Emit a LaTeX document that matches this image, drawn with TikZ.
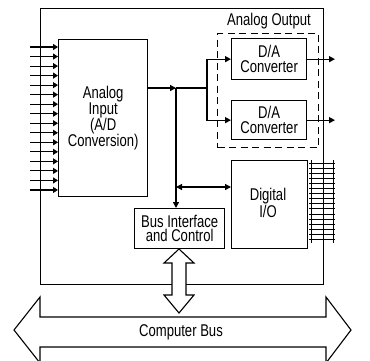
\documentclass[tikz,border=0pt]{standalone}
\usepackage{fontspec}
\setmainfont{Liberation Sans}[FakeStretch=0.77]
\usetikzlibrary{arrows.meta}
\begin{document}
\begin{tikzpicture}[x=1pt,y=-1pt,line width=1.3pt,
  box/.style={draw,line width=1.3pt,inner sep=0pt,anchor=north west},
  lbl/.style={font=\fontsize{17}{15}\selectfont,align=center,inner sep=0pt},
  arr/.style={-{Triangle[length=6pt,width=6pt]}},
  arrtwo/.style={{Triangle[length=6pt,width=6pt]}-{Triangle[length=6pt,width=6pt]}},
  inarr/.style={line width=1.1pt,-{Triangle[length=5pt,width=6pt]}},
  hollow/.style={draw,fill=white,line width=1.1pt,line join=miter}]
\useasboundingbox (0,0) rectangle (370,360);
\clip (0,0) rectangle (370,360);
% board
\node[box,minimum width=283pt,minimum height=276pt] (board) at (40,8) {};
% analog input
\node[box,lbl,minimum width=89pt,minimum height=157pt,font=\fontsize{17}{16}\selectfont] (ai) at (58,39) {Analog\\Input\\(A/D\\Conversion)};
% analog output group
\node[box,dash pattern=on 7pt off 4.5pt,minimum width=101pt,minimum height=114pt] (ao) at (217,33) {};
\node[lbl] (aol) at (269,21) {Analog Output};
\node[box,lbl,minimum width=75pt,minimum height=41pt] (da1) at (231,38) {D/A\\Converter};
\node[box,lbl,minimum width=75pt,minimum height=39pt] (da2) at (231,100) {D/A\\Converter};
% digital I/O
\node[box,minimum width=76pt,minimum height=88pt] (dio) at (231,160) {};
\node[lbl,font=\fontsize{17}{14}\selectfont] (diot) at (268,203) {Digital\\I/O};
% bus interface
\node[box,lbl,minimum width=90pt,minimum height=40pt,font=\fontsize{17}{14}\selectfont] (bic) at (134,208) {Bus Interface\\and Control};
% input lines
\foreach \i in {0,...,15}{
  \coordinate (in\i) at (30,{47+\i*9.53});
  \draw[inarr] (in\i) -- (in\i -| ai.west);
}
% internal connectors
\coordinate (j1) at (176,88);
\coordinate (j2) at (207,88);
\coordinate (j3) at (176,187);
\draw[arr] (ai.east |- j1) -- (j1);
\draw (j1) -- (j2);
\draw[arr] (j2) |- (da1.west);
\draw[arr] (j2) |- (da2.west);
\draw[arr] (j1) -- (j1 |- bic.north);
\draw[arrtwo] (j3) -- (j3 -| dio.west);
% outputs
\coordinate (o1) at (335,0 |- da1.east);
\coordinate (o2) at (335,0 |- da2.east);
\draw[arr] (da1.east) -- (o1 |- da1.east);
\draw[arr] (da2.east) -- (o2 |- da2.east);
% digital ladder
\draw[line width=1pt] (311,160) -- (311,243) (333,160) -- (333,243);
\foreach \k in {0,...,15}{
  \draw[line width=1pt] (309,{163+\k*5.1}) -- (335,{163+\k*5.1});
}
% hollow vertical arrow
\draw[hollow] (179,249) -- (194,263) -- (186,263) -- (186,295) -- (194,295) -- (179,313)
  -- (164,295) -- (172,295) -- (172,263) -- (164,263) -- cycle;
% computer bus
\draw[hollow] (14,330) -- (40,297) -- (40,317) -- (326,317) -- (326,297) -- (351,330)
  -- (326,363) -- (326,347) -- (40,347) -- (40,363) -- cycle;
\node[lbl] (cb) at (181,332) {Computer Bus};
\end{tikzpicture}
\end{document}
